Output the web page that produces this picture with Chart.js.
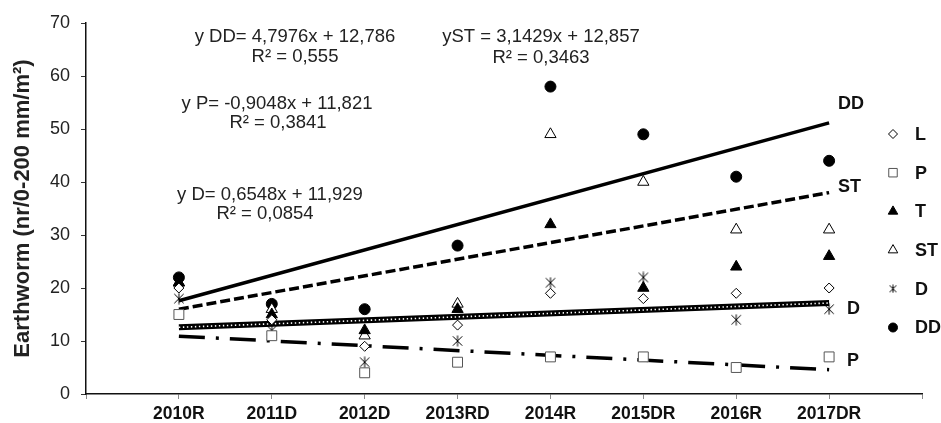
<!DOCTYPE html>
<html>
<head>
<meta charset="utf-8">
<script src="https://cdn.jsdelivr.net/npm/chart.js"></script>
<style>
  html, body { margin: 0; padding: 0; background: #fff; }
</style>
</head>
<body>
<canvas id="graf_earthworm" width="941" height="423"></canvas>
<script>
// categorias del eje x (van en x = 1..8)
var categories = ['2010R', '2011D', '2012D', '2013RD', '2014R', '2015DR', '2016R', '2017DR'];

// valores de cada serie
var serieL  = [20, 14, 9, 13, 19, 18, 19, 20];
var serieP  = [15, 11, 4, 6, 7, 7, 5, 7];
var serieT  = [21, 15, 12, 16, 32, 20, 24, 26];
var serieST = [21, 16, 11, 17, 49, 40, 31, 31];
var serieD  = [18, 12, 6, 10, 21, 22, 14, 16];
var serieDD = [22, 17, 16, 28, 58, 49, 41, 44];

// ticks del eje y
var yTicks = [0, 10, 20, 30, 40, 50, 60, 70];

// ecuaciones de las lineas de tendencia
var equations = [
  { text: 'y DD= 4,7976x + 12,786', x: 295, y: 37 },
  { text: 'R² = 0,555', x: 295, y: 57 },
  { text: 'yST = 3,1429x + 12,857', x: 541, y: 37 },
  { text: 'R² = 0,3463', x: 541, y: 58 },
  { text: 'y P= -0,9048x + 11,821', x: 277, y: 104 },
  { text: 'R² = 0,3841', x: 278, y: 123 },
  { text: 'y D= 0,6548x + 11,929', x: 270, y: 195 },
  { text: 'R² = 0,0854', x: 265, y: 214 }
];

var FONT = "'Liberation Sans', Arial, sans-serif";

// marcador asterisco (X con linea vertical) como en Excel
function makeStar(size) {
  var c = document.createElement('canvas');
  c.width = size; c.height = size;
  var g = c.getContext('2d');
  g.strokeStyle = '#000';
  g.lineWidth = 1;
  var m = size / 2, r = size / 2 - 0.5;
  g.beginPath();
  g.moveTo(m - r * 0.85, m - r * 0.85); g.lineTo(m + r * 0.85, m + r * 0.85);
  g.moveTo(m + r * 0.85, m - r * 0.85); g.lineTo(m - r * 0.85, m + r * 0.85);
  g.moveTo(m, m - r); g.lineTo(m, m + r);
  g.stroke();
  return c;
}
var starBig = makeStar(12);
var starSmall = makeStar(9);

function toPoints(vals) {
  return vals.map(function (v, i) { return { x: i + 1, y: v }; });
}

// recta de minimos cuadrados de x = 1..n
function fitLine(vals) {
  var n = vals.length, sx = 0, sy = 0, sxx = 0, sxy = 0;
  vals.forEach(function (v, i) {
    var x = i + 1;
    sx += x; sy += v; sxx += x * x; sxy += x * v;
  });
  var b = (n * sxy - sx * sy) / (n * sxx - sx * sx);
  var a = (sy - b * sx) / n;
  return [{ x: 1, y: a + b }, { x: n, y: a + b * n }];
}

function scatterSet(label, vals, style, radius, bg, border, legendStyle) {
  return {
    label: label,
    data: toPoints(vals),
    pointStyle: style,
    pointRadius: radius,
    pointHoverRadius: radius,
    backgroundColor: bg,
    borderColor: border,
    borderWidth: 1,
    showLine: false,
    order: 0,
    legendStyle: legendStyle
  };
}

function trendSet(label, vals, width, dash, color, order) {
  return {
    label: label,
    data: fitLine(vals),
    showLine: true,
    borderColor: color || '#000',
    borderWidth: width,
    borderDash: dash,
    pointRadius: 0,
    pointHoverRadius: 0,
    order: order || 2,
    isTrend: true
  };
}

var datasets = [
  scatterSet('L', serieL, 'rectRot', 5, '#fff', '#000', { style: 'rectRot', r: 4.5 }),
  scatterSet('P', serieP, 'rect', 7, '#fff', '#555', { style: 'rect', r: 6 }),
  scatterSet('T', serieT, 'triangle', 6.5, '#000', '#000', { style: 'triangle', r: 5.5 }),
  scatterSet('ST', serieST, 'triangle', 6.5, '#fff', '#000', { style: 'triangle', r: 5.5 }),
  scatterSet('D', serieD, starBig, 6, '#000', '#000', { style: starSmall, r: 5 }),
  scatterSet('DD', serieDD, 'circle', 5.5, '#000', '#000', { style: 'circle', r: 4.5 }),
  trendSet('DD', serieDD, 3.5, []),
  trendSet('ST', serieST, 3.5, [10, 4]),
  trendSet('P', serieP, 3.5, [26, 11, 3, 11]),
  trendSet('D', serieD, 6, []),
  trendSet('D', serieD, 1.6, [1.4, 2.6], '#fff', 1)
];

// etiquetas al final de cada linea de tendencia
var trendLabels = [
  { text: 'DD', x: 838, y: 104 },
  { text: 'ST', x: 838, y: 187 },
  { text: 'D', x: 847, y: 309 },
  { text: 'P', x: 847, y: 361 }
];

var textPlugin = {
  id: 'textos',
  afterDatasetsDraw: function (chart) {
    var ctx = chart.ctx;
    ctx.save();
    ctx.fillStyle = '#222';
    ctx.font = '18.5px ' + FONT;
    ctx.textAlign = 'center';
    ctx.textBaseline = 'middle';
    equations.forEach(function (e) { ctx.fillText(e.text, e.x, e.y); });

    ctx.fillStyle = '#111';
    ctx.font = 'bold 18px ' + FONT;
    ctx.textAlign = 'left';
    trendLabels.forEach(function (t) { ctx.fillText(t.text, t.x, t.y); });

    // leyenda
    var marks = chart.data.datasets.filter(function (d) { return !d.isTrend; });
    marks.forEach(function (d, i) {
      var y = 134 + i * 38.7;
      ctx.fillStyle = d.backgroundColor;
      ctx.strokeStyle = d.borderColor;
      ctx.lineWidth = 1;
      Chart.helpers.drawPoint(ctx, { pointStyle: d.legendStyle.style, radius: d.legendStyle.r, rotation: 0, borderWidth: 1 }, 893, y);
      ctx.fillStyle = '#111';
      ctx.fillText(d.label, 915, y + 1);
    });
    ctx.restore();
  }
};

var ctx = document.getElementById('graf_earthworm').getContext('2d');

var graf_earthworm = new Chart(ctx, {
  type: 'scatter',
  data: { datasets: datasets },
  options: {
    responsive: false,
    animation: false,
    layout: { padding: { left: 0, right: 19, top: 23, bottom: 0 } },
    plugins: {
      legend: { display: false },
      tooltip: { enabled: false }
    },
    scales: {
      x: {
        type: 'linear',
        min: 0,
        max: 9,
        afterFit: function (s) { s.height = 29; },
        afterBuildTicks: function (s) {
          s.ticks = [0, 1, 2, 3, 4, 5, 6, 7, 8, 9].map(function (v) { return { value: v }; });
        },
        ticks: {
          autoSkip: false,
          maxRotation: 0,
          padding: 5,
          color: '#111',
          font: { family: FONT, size: 17.5, weight: 'bold' },
          callback: function (v) { return categories[v - 1] || ''; }
        },
        grid: { drawOnChartArea: false, drawTicks: true, tickLength: 5, color: '#888' },
        border: { display: true, color: '#111', width: 1.5 }
      },
      y: {
        min: 0,
        max: 70,
        afterFit: function (s) { s.width = 86; },
        afterBuildTicks: function (s) {
          s.ticks = yTicks.map(function (v) { return { value: v }; });
        },
        ticks: {
          padding: 11,
          color: '#222',
          font: { family: FONT, size: 18 }
        },
        grid: { drawOnChartArea: false, drawTicks: true, tickLength: 5, color: '#333' },
        border: { display: true, color: '#111', width: 1.5 },
        title: {
          display: true,
          text: 'Earthworm (nr/0-200 mm/m²)',
          color: '#222',
          padding: { top: 10, bottom: 0 },
          font: { family: FONT, size: 22, weight: 'bold' }
        }
      }
    }
  },
  plugins: [textPlugin]
});
</script>
</body>
</html>
